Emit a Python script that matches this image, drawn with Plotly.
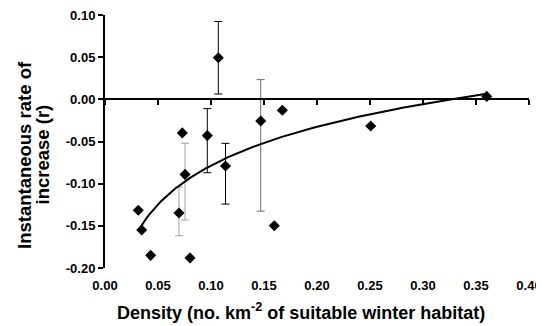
import numpy as np
import plotly.graph_objects as go

# Data
density = [0.0314, 0.0346, 0.0431, 0.0698, 0.0729, 0.0755, 0.0802, 0.0965,
           0.1069, 0.1137, 0.1469, 0.1597, 0.1673, 0.2507, 0.3601]
rate = [-0.1316, -0.155, -0.185, -0.1348, -0.0398, -0.089, -0.188, -0.043,
        0.0493, -0.079, -0.0256, -0.150, -0.013, -0.0316, 0.0035]

# Error bars (subset of points), grouped by bar colour
err_light_x = [0.0698, 0.0755]
err_light_y = [-0.1348, -0.089]
err_light_plus = [0.031, 0.037]
err_light_minus = [0.027, 0.054]

err_mid_x = [0.1469]
err_mid_y = [-0.0256]
err_mid_plus = [0.049]
err_mid_minus = [0.107]

err_dark_x = [0.0965, 0.1069, 0.1137]
err_dark_y = [-0.043, 0.0493, -0.0792]
err_dark_plus = [0.032, 0.043, 0.027]
err_dark_minus = [0.044, 0.043, 0.045]

x_ticks = [0.00, 0.05, 0.10, 0.15, 0.20, 0.25, 0.30, 0.35, 0.40]
y_ticks = [-0.20, -0.15, -0.10, -0.05, 0.00, 0.05, 0.10]

x_title = "Density (no. km<sup>-2</sup> of suitable winter habitat)"
y_title_lines = ["Instantaneous rate of", "increase (r)"]

# Logarithmic trendline fitted to the data
b, a = np.polyfit(np.log(density), rate, 1)
xt = np.linspace(min(density), max(density), 200)
yt = a + b * np.log(xt)

FONT = "Liberation Sans, Arial, sans-serif"
OFF = 8  # default page body margin

# plot area in page pixels
PL, PR, PT, PB = 105, 529, 15, 268
PW, PH = PR - PL, PB - PT


def px(xp):
    return (xp - PL) / PW


def py(yp):
    return (PB - yp) / PH


fig = go.Figure()

for ex, ey, ep, em, col in [
    (err_light_x, err_light_y, err_light_plus, err_light_minus, "#a0a0a0"),
    (err_mid_x, err_mid_y, err_mid_plus, err_mid_minus, "#6e6e6e"),
    (err_dark_x, err_dark_y, err_dark_plus, err_dark_minus, "#000000"),
]:
    fig.add_trace(go.Scatter(
        x=ex, y=ey, mode="markers",
        marker=dict(size=1, color="rgba(0,0,0,0)"),
        error_y=dict(type="data", symmetric=False, array=ep, arrayminus=em,
                     color=col, thickness=1, width=4),
        showlegend=False, hoverinfo="skip"))

fig.add_trace(go.Scatter(x=xt, y=yt, mode="lines",
                         line=dict(color="black", width=2),
                         showlegend=False, hoverinfo="skip"))

fig.add_trace(go.Scatter(x=density, y=rate, mode="markers",
                         marker=dict(symbol="diamond", size=8.5, color="black"),
                         showlegend=False))

# invisible trace to activate the zero-line axis
fig.add_trace(go.Scatter(x=[0, 0.4], y=[0, 0], xaxis="x2", mode="lines",
                         line=dict(width=0), showlegend=False, hoverinfo="skip"))

annotations = [
    dict(text=x_title, xref="paper", yref="paper", x=px(301), y=py(312),
         xanchor="center", yanchor="middle", showarrow=False,
         font=dict(family=FONT, size=18, weight="bold")),
    dict(text=y_title_lines[0], textangle=-90, xref="paper", yref="paper",
         x=px(24), y=py(155), xanchor="center", yanchor="middle",
         showarrow=False, font=dict(family=FONT, size=18.5, weight="bold")),
    dict(text=y_title_lines[1], textangle=-90, xref="paper", yref="paper",
         x=px(41.5), y=py(155), xanchor="center", yanchor="middle",
         showarrow=False, font=dict(family=FONT, size=18.5, weight="bold")),
]

fig.update_layout(
    width=544 - OFF, height=326 - OFF,
    margin=dict(l=PL - OFF, r=544 - OFF - (PR - OFF), t=PT - OFF,
                b=326 - OFF - (PB - OFF)),
    plot_bgcolor="white", paper_bgcolor="white",
    font=dict(family=FONT, color="black", size=13),
    xaxis=dict(range=[0, 0.4], tickvals=x_ticks,
               ticktext=[f"{v:.2f}" for v in x_ticks],
               showline=False, showgrid=False, zeroline=False, ticks="",
               ticklabelstandoff=8, automargin=False,
               ticklabeloverflow="allow",
               tickfont=dict(family=FONT, size=13, weight="bold")),
    xaxis2=dict(range=[0, 0.4], overlaying="x", anchor="free",
                position=2/3, side="bottom", tickvals=x_ticks,
                showticklabels=False, showline=True, linecolor="black",
                linewidth=2, ticks="outside", ticklen=5, tickwidth=2,
                tickcolor="black", showgrid=False, zeroline=False,
                automargin=False),
    yaxis=dict(range=[-0.2, 0.1], tickvals=y_ticks,
               ticktext=[f"{v:.2f}" for v in y_ticks],
               showline=True, linecolor="black", linewidth=2,
               ticks="outside", ticklen=5, tickwidth=2, tickcolor="black",
               showgrid=False, zeroline=False, automargin=False,
               ticklabeloverflow="allow",
               tickfont=dict(family=FONT, size=13, weight="bold")),
    annotations=annotations,
)

fig.write_html("out.html")
